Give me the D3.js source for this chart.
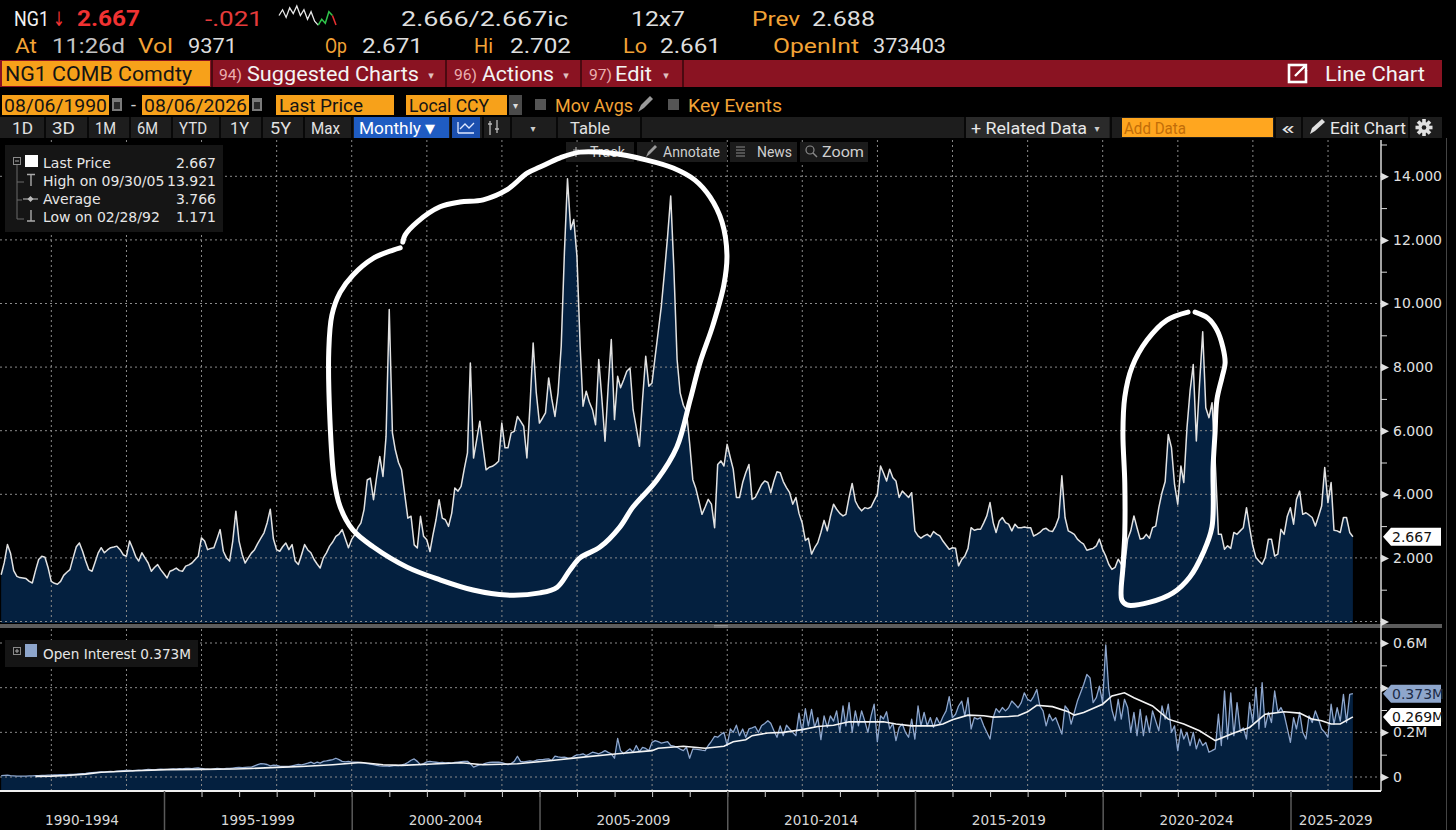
<!DOCTYPE html>
<html lang="en">
<head>
<meta charset="UTF-8">
<title>NG1 COMB Comdty</title>
<style>
  html, body { margin: 0; padding: 0; background: #000; overflow: hidden; }
  svg { display: block; }
</style>
</head>
<body>
<script src="https://d3js.org/d3.v7.min.js"></script>
<div id="my_dataviz"></div>
<script>
// NG1 last price, monthly (month end), Aug 1990 .. Aug 2026
var price = [
  1.47, 1.85, 2.42, 2.15, 1.6,                                             // 1990 Aug-Dec
  1.42, 1.38, 1.37, 1.35, 1.26, 1.21, 1.6, 1.95, 2.05, 2.02, 1.7, 1.26,    // 1991
  1.2, 1.171, 1.26, 1.45, 1.55, 1.63, 2.0, 2.35, 2.47, 2.21, 1.9, 1.63,    // 1992
  1.58, 1.85, 2.15, 2.32, 2.16, 2.25, 2.32, 2.34, 2.37, 2.26, 2.1, 2.05,   // 1993
  2.53, 2.32, 2.05, 1.9, 2.16, 2.0, 1.84, 1.58, 1.7, 1.79, 1.63, 1.5,      // 1994
  1.37, 1.58, 1.62, 1.68, 1.6, 1.58, 1.74, 1.78, 1.84, 1.95, 2.05, 2.63,   // 1995
  2.53, 2.26, 2.3, 2.32, 2.6, 2.89, 2.21, 2.0, 1.9, 2.53, 3.47, 2.53,      // 1996
  2.1, 1.84, 2.0, 2.15, 2.26, 2.45, 2.62, 2.79, 3.1, 3.53, 2.6, 2.26,      // 1997
  2.21, 2.35, 2.47, 2.26, 2.42, 1.9, 1.79, 2.1, 2.42, 2.25, 2.16, 1.95,    // 1998
  1.8, 1.68, 2.0, 2.16, 2.37, 2.5, 2.68, 2.75, 2.89, 2.6, 2.32, 2.58,      // 1999
  2.73, 2.95, 3.1, 3.52, 4.45, 4.51, 3.83, 4.56, 5.19, 4.56, 5.82, 9.81,   // 2000
  5.93, 5.4, 5.0, 4.77, 4.0, 3.25, 3.31, 2.41, 2.31, 3.31, 2.68, 2.57,     // 2001
  2.2, 2.7, 3.2, 3.83, 3.25, 3.2, 2.99, 3.41, 4.2, 4.1, 4.25, 4.8,         // 2002
  5.3, 8.13, 5.14, 5.7, 6.3, 5.51, 4.77, 4.85, 4.88, 4.95, 5.04, 6.24,     // 2003
  5.46, 5.46, 5.93, 5.98, 6.45, 6.3, 6.14, 5.14, 6.77, 8.76, 7.2, 6.24,    // 2004
  6.4, 6.56, 7.66, 7.0, 6.45, 7.19, 8.66, 11.6, 13.921, 12.33, 12.64, 11.49, // 2005
  8.66, 6.77, 7.24, 6.9, 6.66, 6.19, 8.24, 6.98, 5.67, 7.4, 8.87, 6.35,    // 2006
  7.71, 7.35, 7.6, 7.87, 7.97, 6.66, 6.1, 5.51, 6.98, 8.34, 7.4, 7.5,      // 2007
  8.34, 9.1, 9.92, 10.97, 12.12, 13.38, 11.07, 8.24, 7.19, 6.8, 6.61, 5.61, // 2008
  4.46, 4.2, 3.79, 3.37, 3.6, 3.84, 3.69, 2.95, 4.94, 5.05, 4.89, 5.57,    // 2009
  5.15, 4.79, 3.9, 3.9, 4.37, 4.68, 4.94, 3.84, 3.9, 4.1, 4.3, 4.42,       // 2010
  4.37, 4.05, 4.42, 4.71, 4.68, 4.4, 4.21, 4.05, 3.69, 3.9, 3.4, 3.1,      // 2011
  2.55, 2.62, 2.12, 2.32, 2.48, 2.8, 3.18, 2.85, 3.3, 3.69, 3.53, 3.4,     // 2012
  3.32, 3.37, 3.9, 4.34, 3.79, 3.6, 3.48, 3.58, 3.55, 3.6, 3.8, 4.0,       // 2013
  4.89, 4.68, 4.42, 4.79, 4.52, 4.42, 3.9, 4.1, 4.0, 3.9, 4.05, 2.85,      // 2014
  2.69, 2.62, 2.69, 2.74, 2.66, 2.83, 2.75, 2.69, 2.53, 2.4, 2.27, 2.32,   // 2015
  2.3, 1.75, 1.95, 2.06, 2.3, 2.95, 2.87, 2.9, 2.9, 3.1, 3.32, 3.74,       // 2016
  3.11, 2.8, 3.16, 3.27, 3.11, 3.06, 2.85, 3.06, 2.95, 2.95, 2.97, 2.95,   // 2017
  2.95, 2.69, 2.74, 2.8, 2.9, 2.93, 2.85, 2.83, 3.0, 3.27, 4.58, 3.27,     // 2018
  2.85, 2.8, 2.74, 2.59, 2.5, 2.43, 2.24, 2.27, 2.3, 2.38, 2.59, 2.27,     // 2019
  2.06, 1.8, 1.64, 1.7, 1.96, 1.8, 1.7, 2.59, 2.85, 3.32, 2.95, 2.59,      // 2020
  2.62, 2.74, 2.62, 2.95, 3.0, 3.58, 4.05, 4.4, 5.88, 5.47, 4.31, 3.69,    // 2021
  4.89, 4.37, 6.09, 7.25, 8.08, 5.68, 7.46, 9.11, 6.72, 6.41, 6.88, 5.0,   // 2022
  2.74, 2.74, 2.27, 2.38, 2.3, 2.8, 2.74, 2.85, 2.95, 3.58, 2.95, 2.38,    // 2023
  2.01, 1.9, 1.8, 2.01, 2.59, 2.59, 2.06, 2.12, 2.9, 2.74, 3.3, 3.58,      // 2024
  3.06, 3.84, 4.1, 3.37, 3.42, 3.35, 3.27, 3.0, 3.3, 3.63, 4.84, 3.74,     // 2025
  4.37, 2.87, 2.85, 2.8, 3.27, 3.27, 2.8, 2.667                            // 2026 Jan-Aug
];

// open interest, millions of contracts, same months
var openInt = [
  0.006, 0.007, 0.008, 0.006, 0.005,
  0.004, 0.004, 0.004, 0.004, 0.005, 0.005, 0.006, 0.006, 0.007, 0.007, 0.008, 0.008,
  0.009, 0.009, 0.01, 0.01, 0.011, 0.012, 0.012, 0.013, 0.014, 0.015, 0.016, 0.018,
  0.02, 0.021, 0.022, 0.023, 0.022, 0.024, 0.025, 0.024, 0.026, 0.027, 0.028, 0.029,
  0.03, 0.028, 0.03, 0.031, 0.03, 0.032, 0.034, 0.033, 0.032, 0.034, 0.035, 0.034,
  0.034, 0.035, 0.036, 0.035, 0.037, 0.036, 0.038, 0.039, 0.037, 0.04, 0.041, 0.038,
  0.036, 0.035, 0.034, 0.036, 0.038, 0.037, 0.036, 0.039, 0.038, 0.04, 0.042, 0.043,
  0.042, 0.043, 0.044, 0.044, 0.05, 0.055, 0.06, 0.059, 0.056, 0.05, 0.053, 0.052,
  0.049, 0.047, 0.048, 0.047, 0.05, 0.053, 0.056, 0.054, 0.058, 0.062, 0.067, 0.06,
  0.067, 0.062, 0.07, 0.072, 0.075, 0.078, 0.084, 0.078, 0.07, 0.068, 0.07, 0.067,
  0.066, 0.067, 0.064, 0.062, 0.06, 0.058, 0.055, 0.052, 0.05, 0.049, 0.05, 0.048,
  0.05, 0.052, 0.051, 0.054, 0.058, 0.065, 0.075, 0.081, 0.07, 0.055, 0.06, 0.068,
  0.07, 0.068, 0.066, 0.064, 0.065, 0.063, 0.064, 0.062, 0.065, 0.067, 0.069, 0.07,
  0.07, 0.06, 0.044, 0.05, 0.055, 0.058, 0.062, 0.065, 0.067, 0.066, 0.067, 0.064,
  0.06, 0.055, 0.06, 0.07, 0.093, 0.07, 0.068, 0.07, 0.072, 0.07, 0.075, 0.078,
  0.078, 0.08, 0.081, 0.074, 0.093, 0.09, 0.088, 0.089, 0.086, 0.084, 0.092, 0.099,
  0.1, 0.104, 0.096, 0.103, 0.111, 0.108, 0.104, 0.11, 0.118, 0.11, 0.104, 0.084,
  0.173, 0.118, 0.104, 0.115, 0.126, 0.111, 0.141, 0.114, 0.133, 0.128, 0.118, 0.155,
  0.163, 0.158, 0.152, 0.155, 0.158, 0.141, 0.138, 0.133, 0.125, 0.118, 0.133, 0.084,
  0.126, 0.125, 0.123, 0.12, 0.118, 0.141, 0.16, 0.182, 0.178, 0.19, 0.2, 0.141,
  0.215, 0.2, 0.232, 0.185, 0.215, 0.178, 0.215, 0.22, 0.226, 0.2, 0.229, 0.24,
  0.252, 0.241, 0.207, 0.178, 0.229, 0.185, 0.232, 0.215, 0.2, 0.185, 0.286, 0.2,
  0.306, 0.229, 0.303, 0.222, 0.266, 0.167, 0.274, 0.222, 0.274, 0.25, 0.296, 0.2,
  0.318, 0.229, 0.333, 0.2, 0.296, 0.229, 0.296, 0.25, 0.2, 0.274, 0.326, 0.158,
  0.274, 0.26, 0.292, 0.215, 0.24, 0.163, 0.222, 0.237, 0.2, 0.178, 0.259, 0.17,
  0.318, 0.229, 0.289, 0.229, 0.266, 0.222, 0.266, 0.237, 0.27, 0.296, 0.36, 0.266,
  0.281, 0.318, 0.34, 0.274, 0.355, 0.215, 0.266, 0.259, 0.266, 0.229, 0.2, 0.17,
  0.266, 0.306, 0.289, 0.311, 0.296, 0.31, 0.34, 0.326, 0.31, 0.333, 0.377, 0.348,
  0.34, 0.36, 0.392, 0.318, 0.296, 0.229, 0.281, 0.252, 0.266, 0.229, 0.192, 0.318,
  0.3, 0.237, 0.289, 0.34, 0.377, 0.414, 0.459, 0.444, 0.333, 0.355, 0.407, 0.333,
  0.592, 0.392, 0.3, 0.252, 0.348, 0.259, 0.348, 0.311, 0.2, 0.289, 0.185, 0.303,
  0.185, 0.274, 0.2, 0.296, 0.25, 0.207, 0.318, 0.259, 0.326, 0.2, 0.229, 0.118,
  0.215, 0.17, 0.2, 0.141, 0.2, 0.126, 0.17, 0.141, 0.155, 0.111, 0.118, 0.126,
  0.281, 0.141, 0.385, 0.17, 0.377, 0.185, 0.333, 0.207, 0.22, 0.17, 0.333, 0.244,
  0.4, 0.215, 0.422, 0.222, 0.289, 0.244, 0.385, 0.289, 0.311, 0.281, 0.22, 0.155,
  0.266, 0.215, 0.289, 0.2, 0.17, 0.274, 0.244, 0.296, 0.259, 0.215, 0.2, 0.178,
  0.326, 0.237, 0.311, 0.25, 0.37, 0.244, 0.37, 0.373
];

// moving average of open interest, read at intervals
var oiAvgDates = ["1991-07","1991-12","1992-05","1992-11","1993-04","1994-03","1995-01","1995-12",
  "1996-11","1997-04","1997-12","1998-08","1999-06","2000-03","2000-10","2001-04","2002-02","2002-11",
  "2003-06","2004-05","2005-04","2006-02","2007-01","2007-12","2008-02","2008-10","2009-05","2009-11",
  "2010-02","2010-06","2010-08","2011-01","2011-06","2011-12","2012-05","2012-10","2013-03","2013-09",
  "2014-02","2014-06","2014-11","2015-06","2015-09","2015-12","2016-05","2016-10","2017-01","2017-06",
  "2017-09","2017-12","2018-03","2018-08","2019-01","2019-03","2019-06","2019-12","2020-03","2020-07",
  "2020-10","2021-04","2021-09","2022-02","2022-07","2022-12","2023-06","2023-11","2024-04","2024-10",
  "2025-03","2025-07","2025-10","2026-01","2026-04","2026-08"];
var oiAvgValues = [0.003,0.004,0.007,0.013,0.021,0.028,0.033,0.034,
  0.036,0.038,0.043,0.047,0.055,0.065,0.055,0.052,0.058,0.064,
  0.055,0.059,0.074,0.089,0.104,0.118,0.129,0.138,0.129,0.138,
  0.158,0.167,0.185,0.197,0.2,0.212,0.226,0.232,0.247,0.247,
  0.247,0.237,0.229,0.229,0.237,0.256,0.277,0.274,0.268,0.271,
  0.274,0.292,0.321,0.315,0.292,0.277,0.289,0.326,0.363,0.377,
  0.355,0.318,0.259,0.237,0.207,0.163,0.197,0.222,0.281,0.292,
  0.286,0.259,0.252,0.237,0.237,0.269];

var priceTicks = [0, 2, 4, 6, 8, 10, 12, 14];
var priceMinor = [1, 3, 5, 7, 9, 11, 13, 15];
var oiTicks = [0, 0.2, 0.4, 0.6];
var oiMinor = [0.1, 0.3, 0.5];
var yearBands = ["1990-1994", "1995-1999", "2000-2004", "2005-2009", "2010-2014", "2015-2019", "2020-2024", "2025-2029"];
var legendLabels = ["Last Price", "High on 09/30/05", "Average", "Low on 02/28/92"];
var legendValues = ["2.667", "13.921", "3.766", "1.171"];
var sparkVals = [6, 9, 5, 10, 7, 11, 6, 9, 4, 8, 3, 1, 4, 2, 8, 6, 1];

// hand-drawn circles, [year, price]
var loopA = [[2001.29,11.75],[2001.10,11.68],[2000.57,11.42],[2000.03,10.89],[1999.69,10.35],[1999.47,9.63],
  [1999.39,8.53],[1999.42,6.34],[1999.53,4.46],[1999.69,3.61],[2000.03,2.88],[2000.57,2.35],[2001.47,1.71],
  [2002.35,1.31],[2003.23,0.99],[2004.13,0.83],[2005.01,0.90],[2005.47,1.08],[2005.81,1.62],[2006.08,2.0],
  [2006.61,2.34],[2007.14,2.97],[2007.49,3.60],[2008.13,4.45],[2008.66,5.49],[2009.01,6.97],[2009.27,8.13],
  [2009.62,9.32],[2009.91,10.58],[2009.99,11.53],[2009.86,12.56],[2009.54,13.35],[2009.14,13.88],[2008.56,14.26],
  [2007.86,14.51],[2006.88,14.73],[2006.08,14.76],[2005.55,14.58],[2005.01,14.29],[2004.67,14.1],[2004.13,13.57],
  [2003.50,13.26],[2002.88,13.19],[2002.35,13.04],[2001.74,12.56],[2001.42,12.15],[2001.36,11.93]];
var loopB = [[2022.27,9.73],[2021.71,9.48],[2021.18,8.85],[2020.78,8.0],[2020.59,7.06],[2020.54,5.93],
  [2020.59,4.36],[2020.59,2.78],[2020.54,1.71],[2020.51,0.68],[2020.65,0.52],[2021.26,0.61],[2021.87,0.90],
  [2022.32,1.40],[2022.67,2.15],[2022.91,2.97],[2022.94,4.86],[2022.99,5.93],[2023.04,6.97],[2023.18,7.69],
  [2023.26,8.13],[2023.20,8.63],[2023.04,9.17],[2022.80,9.54],[2022.46,9.73]];

var W = 1456, H = 830;
var ORANGE = "#f7a11a", AMBER = "#f3a336", BARRED = "#8a1322", NAVY = "#04203f", OIBLUE = "#8ea6cc";
var UI = "Roboto, 'Noto Sans', sans-serif";
var AX = "'DejaVu Sans', Verdana, sans-serif";

var svg = d3.select("#my_dataviz").append("svg")
    .attr("width", W).attr("height", H);
svg.append("rect").attr("width", W).attr("height", H).attr("fill", "#000");

function txt(g, s, x, y, o) {
    o = o || {};
    var t = g.append("text").attr("x", x).attr("y", y).text(s)
        .attr("fill", o.fill || "#dedede")
        .attr("font-family", o.family || UI)
        .attr("font-size", o.size || 21)
        .attr("font-weight", o.weight || 400)
        .attr("text-anchor", o.anchor || "start");
    if (o.w) t.attr("textLength", o.w).attr("lengthAdjust", "spacingAndGlyphs");
    return t;
}
function box(g, x, y, w, h, fill) {
    return g.append("rect").attr("x", x).attr("y", y).attr("width", w).attr("height", h).attr("fill", fill);
}

// ---------- header ----------
var hd = svg.append("g");
txt(hd, "NG1", 14, 26, {fill: "#f2f2f2", w: 35});
txt(hd, "\u2193", 53, 26, {fill: "#f03232", family: AX, size: 20, w: 12});
txt(hd, "2.667", 77, 26, {fill: "#f03232", weight: 700, size: 22, w: 63});
txt(hd, "-.021", 205, 26, {fill: "#e53b3b", w: 58});
var sx = d3.scaleLinear().domain([0, sparkVals.length - 1]).range([279, 336]);
var sy = d3.scaleLinear().domain([0, 12]).range([27, 4]);
function sparkLine(offset) {
    return d3.line().x(function(d, i) { return sx(i + offset); }).y(function(d) { return sy(d); });
}
hd.append("path").attr("d", sparkLine(0)(sparkVals.slice(0, 12))).attr("fill", "none").attr("stroke", "#e8e8e8").attr("stroke-width", 1.3);
hd.append("path").attr("d", sparkLine(11)(sparkVals.slice(11, 16))).attr("fill", "none").attr("stroke", "#2fc44a").attr("stroke-width", 1.5);
hd.append("path").attr("d", sparkLine(15)(sparkVals.slice(15))).attr("fill", "none").attr("stroke", "#e83030").attr("stroke-width", 1.5);
txt(hd, "2.666/2.667ic", 401, 26, {w: 167});
txt(hd, "12x7", 631, 26, {w: 54});
txt(hd, "Prev", 752, 26, {fill: AMBER, w: 48});
txt(hd, "2.688", 812, 26, {w: 63});

txt(hd, "At", 15, 53, {fill: AMBER, w: 22});
txt(hd, "11:26d", 52, 53, {fill: "#c4c4c4", w: 73});
txt(hd, "Vol", 138, 53, {fill: AMBER, w: 35});
txt(hd, "9371", 188, 53, {w: 49});
txt(hd, "Op", 325, 53, {fill: AMBER, w: 22});
txt(hd, "2.671", 362, 53, {w: 61});
txt(hd, "Hi", 474, 53, {fill: AMBER, w: 19});
txt(hd, "2.702", 510, 53, {w: 61});
txt(hd, "Lo", 623, 53, {fill: AMBER, w: 24});
txt(hd, "2.661", 660, 53, {w: 61});
txt(hd, "OpenInt", 773, 53, {fill: AMBER, w: 86});
txt(hd, "373403", 873, 53, {w: 73});

// red menu bar
box(hd, 0, 60, 1442, 27, BARRED);
box(hd, 2, 61, 208, 25, ORANGE);
txt(hd, "NG1 COMB Comdty", 5, 81, {fill: "#141414", w: 187});
[211, 445, 580, 682].forEach(function(x) { box(hd, x, 60, 2, 27, "#4a0910"); });
[[219, "94)", 247, "Suggested Charts", 172, 431], [454, "96)", 482, "Actions", 72, 566], [589, "97)", 615, "Edit", 37, 666]]
  .forEach(function(m) {
    txt(hd, m[1], m[0], 80, {size: 14, fill: "#eab0b0", w: 23});
    txt(hd, m[3], m[2], 81, {fill: "#f4f4f4", w: m[4]});
    txt(hd, "\u25BE", m[5], 79, {size: 11, fill: "#e0c0c0", family: AX, anchor: "middle"});
  });
hd.append("rect").attr("x", 1289).attr("y", 65).attr("width", 17).attr("height", 17)
    .attr("fill", "none").attr("stroke", "#fff").attr("stroke-width", 2.6);
box(hd, 1300, 62, 9, 8, BARRED);
hd.append("path").attr("d", "M1295,76 L1306,65 M1300,65 L1306,65 L1306,71").attr("stroke", "#fff")
    .attr("stroke-width", 2.4).attr("fill", "none");
txt(hd, "Line Chart", 1325, 81, {fill: "#f4f4f4", w: 100});

// date / field row
var dr = 112;
box(hd, 2, 95, 107, 20, ORANGE);
txt(hd, "08/06/1990", 4, dr, {size: 18, fill: "#141414", w: 103});
box(hd, 142, 95, 107, 20, ORANGE);
txt(hd, "08/06/2026", 144, dr, {size: 18, fill: "#141414", w: 103});
[112, 252].forEach(function(x) {
    box(hd, x, 98, 10, 13, "#7a7a7a");
    box(hd, x + 2, 102, 6, 7, "#2a2a2a");
});
txt(hd, "-", 131, dr - 1, {size: 18, fill: "#cfcfcf"});
box(hd, 276, 95, 118, 20, ORANGE);
txt(hd, "Last Price", 279, dr, {size: 18, fill: "#141414", w: 84});
box(hd, 406, 95, 101, 20, ORANGE);
txt(hd, "Local CCY", 409, dr, {size: 18, fill: "#141414", w: 80});
box(hd, 509, 95, 13, 20, "#4a4a4a");
txt(hd, "\u25BE", 515.5, 109, {size: 10, fill: "#ddd", family: AX, anchor: "middle"});
box(hd, 535, 99, 11, 11, "#555");
txt(hd, "Mov Avgs", 555, dr, {size: 18, fill: AMBER, w: 78});
hd.append("path").attr("d", "M638,112 L641,105 L650,96 L653,99 L644,108 Z").attr("fill", "#9a9a9a");
box(hd, 668, 99, 11, 11, "#555");
txt(hd, "Key Events", 688, dr, {size: 18, fill: AMBER, w: 94});

// period buttons row
box(hd, 0, 117, 1442, 21, "#1d1d1d");
[44, 87, 129, 171, 219, 261, 303, 351, 450, 482, 510, 556, 640, 964, 1110, 1274, 1301, 1408].forEach(function(x) {
    box(hd, x, 117, 2, 21, "#080808");
});
box(hd, 966, 117, 143, 21, "#2a2a2a");
box(hd, 354, 117, 95, 21, "#1f5cc2");
box(hd, 452, 117, 28, 21, "#1b4fae");
var br = 134;
[["1D", 12, 21], ["3D", 52, 23], ["1M", 95, 21], ["6M", 137, 21], ["YTD", 179, 28], ["1Y", 230, 19], ["5Y", 270, 21], ["Max", 311, 29]]
  .forEach(function(b) { txt(hd, b[0], b[1], br, {size: 17, fill: "#e2e2e2", w: b[2]}); });
txt(hd, "Monthly", 359, br, {size: 17, fill: "#fff", w: 62});
txt(hd, "\u25BC", 425, br - 1, {size: 13, fill: "#fff", family: AX});
hd.append("path").attr("d", "M458,133 L458,122 M458,133 L474,133 M460,129 L465,124 L469,128 L474,123")
    .attr("stroke", "#dfe8ff").attr("stroke-width", 1.3).attr("fill", "none");
hd.append("path").attr("d", "M490,121 L490,135 M488,124 L492,124 M497,120 L497,133 M495,129 L499,129")
    .attr("stroke", "#bbb").attr("stroke-width", 1.3).attr("fill", "none");
txt(hd, "\u25BE", 533, br - 2, {size: 10, fill: "#ccc", family: AX, anchor: "middle"});
txt(hd, "Table", 570, br, {size: 17, fill: "#e2e2e2", w: 40});
txt(hd, "+ Related Data", 971, br, {size: 17, fill: "#e8e8e8", w: 116});
txt(hd, "\u25BE", 1097, br - 2, {size: 10, fill: "#ccc", family: AX, anchor: "middle"});
box(hd, 1122, 118, 151, 19, "#ffa61f");
txt(hd, "Add Data", 1124, br, {size: 17, fill: "#c26d08", w: 62});
txt(hd, "\u00AB", 1281, br, {size: 19, fill: "#e2e2e2", w: 14});
hd.append("path").attr("d", "M1310,134 L1312,128 L1322,119 L1325,122 L1315,131 Z").attr("fill", "#e0e0e0");
txt(hd, "Edit Chart", 1330, br, {size: 17, fill: "#e8e8e8", w: 76});
var gear = hd.append("g").attr("transform", "translate(1424,127.5)");
d3.range(8).forEach(function(i) {
    gear.append("rect").attr("x", -1.8).attr("y", -8.5).attr("width", 3.6).attr("height", 4)
        .attr("fill", "#e0e0e0").attr("transform", "rotate(" + (i * 45) + ")");
});
gear.append("circle").attr("r", 5.6).attr("fill", "#e0e0e0");
gear.append("circle").attr("r", 2.3).attr("fill", "#1d1d1d");

// ---------- chart ----------
var pTop = 140, pBot = 623, oTop = 629, oBot = 791, plotR = 1381;

var x = d3.scaleTime()
    .domain([new Date(1995, 0, 1), new Date(2025, 0, 1)])
    .range([164, 1290.5]);
var yP = d3.scaleLinear().domain([0, 14]).range([621.5, 176.3]);
var yO = d3.scaleLinear().domain([0, 0.6]).range([777, 643]);

function monthEnd(i) { return new Date(1990, 8 + i, 0); }
function fromYear(f) {
    var yr = Math.floor(f);
    return new Date(yr, 0, 1 + Math.round((f - yr) * 365.25));
}
var priceData = price.map(function(v, i) { return {date: monthEnd(i), v: v}; });
var oiData = openInt.map(function(v, i) { return {date: monthEnd(i), v: v}; });
var avgData = oiAvgDates.map(function(s, i) {
    var p = s.split("-");
    return {date: new Date(+p[0], +p[1], 0), v: oiAvgValues[i]};
});

var defs = svg.append("defs");
defs.append("clipPath").attr("id", "pclip").append("rect")
    .attr("x", 0).attr("y", pTop).attr("width", plotR).attr("height", pBot - pTop);
defs.append("clipPath").attr("id", "oclip").append("rect")
    .attr("x", 0).attr("y", oTop).attr("width", plotR).attr("height", oBot - oTop);

var gridYears = d3.range(1992, 2028, 2).map(function(y) { return new Date(y, 0, 1); });

// price panel
var pp = svg.append("g").attr("clip-path", "url(#pclip)");
pp.append("path").datum(priceData)
    .attr("d", d3.area().x(function(d) { return x(d.date); }).y0(pBot).y1(function(d) { return yP(d.v); }))
    .attr("fill", NAVY);
pp.selectAll(".hgrid").data(priceTicks).enter().append("line")
    .attr("x1", 0).attr("x2", plotR)
    .attr("y1", function(d) { return yP(d); }).attr("y2", function(d) { return yP(d); })
    .attr("stroke", "#8a8a8a").attr("stroke-width", 1).attr("stroke-dasharray", "2,3");
pp.selectAll(".vgrid").data(gridYears).enter().append("line")
    .attr("x1", function(d) { return x(d); }).attr("x2", function(d) { return x(d); })
    .attr("y1", pTop).attr("y2", pBot)
    .attr("stroke", "#8a8a8a").attr("stroke-width", 1).attr("stroke-dasharray", "2,3");
pp.append("path").datum(priceData)
    .attr("d", d3.line().x(function(d) { return x(d.date); }).y(function(d) { return yP(d.v); }))
    .attr("fill", "none").attr("stroke", "#e2e2e2").attr("stroke-width", 1.5).attr("stroke-linejoin", "round");

// open interest panel
var op = svg.append("g").attr("clip-path", "url(#oclip)");
op.append("path").datum(oiData)
    .attr("d", d3.area().x(function(d) { return x(d.date); }).y0(oBot).y1(function(d) { return yO(d.v); }))
    .attr("fill", NAVY);
op.selectAll(".hgrid").data(oiTicks).enter().append("line")
    .attr("x1", 0).attr("x2", plotR)
    .attr("y1", function(d) { return yO(d); }).attr("y2", function(d) { return yO(d); })
    .attr("stroke", "#8a8a8a").attr("stroke-width", 1).attr("stroke-dasharray", "2,3");
op.selectAll(".vgrid").data(gridYears).enter().append("line")
    .attr("x1", function(d) { return x(d); }).attr("x2", function(d) { return x(d); })
    .attr("y1", oTop).attr("y2", oBot)
    .attr("stroke", "#8a8a8a").attr("stroke-width", 1).attr("stroke-dasharray", "2,3");
op.append("path").datum(oiData)
    .attr("d", d3.line().x(function(d) { return x(d.date); }).y(function(d) { return yO(d.v); }))
    .attr("fill", "none").attr("stroke", OIBLUE).attr("stroke-width", 1.3).attr("stroke-linejoin", "round");
op.append("path").datum(avgData)
    .attr("d", d3.line().x(function(d) { return x(d.date); }).y(function(d) { return yO(d.v); }))
    .attr("fill", "none").attr("stroke", "#f4f4f4").attr("stroke-width", 1.6);

// panel divider and right border
box(svg, 0, 624, 1442, 4, "#5c5c5c");
svg.append("path").attr("d", "M714,625.5 L728,625.5 M714,627 L728,627").attr("stroke", "#999").attr("stroke-width", 0.8);
svg.append("line").attr("x1", 1446.5).attr("x2", 1446.5).attr("y1", 138).attr("y2", 830)
    .attr("stroke", "#444").attr("stroke-width", 1);

// legend, price panel
var lg = svg.append("g");
lg.append("rect").attr("x", 5).attr("y", 145).attr("width", 218).attr("height", 87).attr("fill", "#151515");
lg.append("rect").attr("x", 13.5).attr("y", 157.5).attr("width", 7).attr("height", 7).attr("fill", "none").attr("stroke", "#8a8a8a");
lg.append("line").attr("x1", 15).attr("x2", 19).attr("y1", 161).attr("y2", 161).attr("stroke", "#aaa");
lg.append("rect").attr("x", 25).attr("y", 155).attr("width", 13).attr("height", 12).attr("fill", "#fff");
lg.append("path").attr("d", "M17,165 L17,219 M17,182 L24,182 M17,200 L22,200 M17,219 L24,219")
    .attr("stroke", "#6a6a6a").attr("fill", "none");
lg.append("path").attr("d", "M27,174.5 L35,174.5 M31,174.5 L31,186")
    .attr("stroke", "#aaa").attr("stroke-width", 1.4).attr("fill", "none");
lg.append("path").attr("d", "M23,199 L38,199").attr("stroke", "#aaa").attr("stroke-width", 1.2);
lg.append("path").attr("d", "M30.5,196 L33.5,199 L30.5,202 L27.5,199 Z").attr("fill", "#bbb");
lg.append("path").attr("d", "M31,210 L31,221 M27,221 L35,221")
    .attr("stroke", "#aaa").attr("stroke-width", 1.4).attr("fill", "none");
legendLabels.forEach(function(s, i) {
    var yy = 168 + i * 18;
    txt(lg, s, 43, yy, {family: AX, size: 14, fill: "#e6e6e6"});
    txt(lg, legendValues[i], 216, yy, {family: AX, size: 14, fill: "#e6e6e6", anchor: "end"});
});

// legend, OI panel
var lo = svg.append("g");
lo.append("rect").attr("x", 5).attr("y", 640).attr("width", 193).attr("height", 27).attr("fill", "#151515");
lo.append("rect").attr("x", 13.5).attr("y", 647.5).attr("width", 7).attr("height", 7).attr("fill", "none").attr("stroke", "#8a8a8a");
lo.append("path").attr("d", "M15,651 L19,651 M17,649 L17,653").attr("stroke", "#aaa");
lo.append("rect").attr("x", 25).attr("y", 644).attr("width", 12).attr("height", 13).attr("fill", OIBLUE);
txt(lo, "Open Interest 0.373M", 43, 659, {family: AX, size: 14, fill: "#e6e6e6", w: 148});

// chart toolbar
var tb = svg.append("g");
[[566, 68], [637, 90], [730, 67], [800, 68]].forEach(function(c) {
    tb.append("rect").attr("x", c[0]).attr("y", 142).attr("width", c[1]).attr("height", 20).attr("fill", "#1b1b1b");
});
tb.append("path").attr("d", "M576,147 L576,157 M573,150 L579,150").attr("stroke", "#aaa").attr("stroke-width", 1.2);
txt(tb, "Track", 590, 157, {size: 14, fill: "#cfcfcf", w: 35});
tb.append("path").attr("d", "M646,157 L648,152 L655,145 L657,147 L650,154 Z").attr("fill", "#9a9a9a");
txt(tb, "Annotate", 663, 157, {size: 14, fill: "#cfcfcf", w: 57});
tb.append("path").attr("d", "M736,147 L745,147 M736,150 L745,150 M736,153 L745,153 M736,156 L745,156")
    .attr("stroke", "#8a8a8a").attr("stroke-width", 1.2);
txt(tb, "News", 757, 157, {size: 14, fill: "#cfcfcf", w: 35});
tb.append("circle").attr("cx", 810).attr("cy", 150).attr("r", 4).attr("fill", "none").attr("stroke", "#8a8a8a").attr("stroke-width", 1.2);
tb.append("line").attr("x1", 813).attr("y1", 153).attr("x2", 817).attr("y2", 157).attr("stroke", "#8a8a8a").attr("stroke-width", 1.4);
txt(tb, "Zoom", 822, 157, {size: 14, fill: "#cfcfcf", w: 42});

// hand-drawn annotations
var loopLine = d3.line()
    .x(function(d) { return x(fromYear(d[0])); })
    .y(function(d) { return yP(d[1]); })
    .curve(d3.curveCatmullRom.alpha(0.5));
[loopA, loopB].forEach(function(lp) {
    svg.append("path").attr("d", loopLine(lp))
        .attr("fill", "none").attr("stroke", "#fff").attr("stroke-width", 5)
        .attr("stroke-linecap", "round").attr("stroke-linejoin", "round");
});

// ---------- axes ----------
svg.append("line").attr("x1", plotR).attr("x2", plotR).attr("y1", pTop).attr("y2", oBot)
    .attr("stroke", "#d8d8d8").attr("stroke-width", 1.5);

function styleAxis(g) {
    g.select(".domain").remove();
    g.selectAll("text").attr("font-family", AX).attr("font-size", 14).attr("fill", "#e0e0e0");
    g.selectAll(".tick line").attr("stroke", "#d8d8d8");
}
var pAxis = svg.append("g").attr("transform", "translate(" + plotR + ",0)")
    .call(d3.axisRight(yP).tickValues(priceTicks).tickSize(0).tickPadding(12)
        .tickFormat(function(d) { return d === 0 ? "" : d3.format(".3f")(d); }))
    .call(styleAxis);
pAxis.selectAll(".tick").append("path").attr("d", "M0,-4 L8,0 L0,4 Z").attr("fill", "#e0e0e0");
svg.append("g").attr("transform", "translate(" + plotR + ",0)")
    .call(d3.axisRight(yP).tickValues(priceMinor).tickSize(6).tickFormat(""))
    .call(styleAxis);

// the 0.4M label sits under the open-interest flag, as in the terminal
var oAxis = svg.append("g").attr("transform", "translate(" + plotR + ",0)")
    .call(d3.axisRight(yO).tickValues(oiTicks).tickSize(0).tickPadding(12)
        .tickFormat(function(d) { return d === 0 ? "0" : (d === 0.4 ? "" : d3.format(".1f")(d) + "M"); }))
    .call(styleAxis);
oAxis.selectAll(".tick").append("path").attr("d", "M0,-4 L8,0 L0,4 Z").attr("fill", "#e0e0e0");
svg.append("g").attr("transform", "translate(" + plotR + ",0)")
    .call(d3.axisRight(yO).tickValues(oiMinor).tickSize(6).tickFormat(""))
    .call(styleAxis);

// value flags on the right axis
function flag(yv, label, fill, color) {
    var g = svg.append("g").attr("transform", "translate(0," + yv + ")");
    g.append("path").attr("d", "M1383,0 L1391,-9 L1441,-9 L1441,9 L1391,9 Z").attr("fill", fill);
    txt(g, label, 1392, 5, {family: AX, size: 14, fill: color});
}
flag(yP(price[price.length - 1]), "2.667", "#ffffff", "#111");
flag(yO(openInt[openInt.length - 1]), "0.373M", OIBLUE, "#1c2b47");
flag(yO(oiAvgValues[oiAvgValues.length - 1]), "0.269M", "#ffffff", "#111");

// time axis
svg.append("line").attr("x1", 0).attr("x2", plotR).attr("y1", oBot).attr("y2", oBot)
    .attr("stroke", "#f0f0f0").attr("stroke-width", 2);
svg.append("g").attr("transform", "translate(0," + oBot + ")")
    .call(d3.axisBottom(x).ticks(d3.timeYear.every(1)).tickSize(6).tickFormat(""))
    .call(function(g) { g.select(".domain").remove(); g.selectAll(".tick line").attr("stroke", "#cfcfcf"); })
    .selectAll(".tick").filter(function(d) { return x(d) < 2 || x(d) > plotR; }).remove();
var sepYears = d3.range(1995, 2030, 5).map(function(y) { return new Date(y, 0, 1); });
svg.append("g").attr("transform", "translate(0," + oBot + ")")
    .call(d3.axisBottom(x).tickValues(sepYears).tickSize(40).tickFormat(""))
    .call(function(g) { g.select(".domain").remove(); g.selectAll(".tick line").attr("stroke", "#5a5a5a").attr("stroke-width", 1.5); });
yearBands.forEach(function(s, i) {
    var a = Math.max(x(new Date(1990 + i * 5, 0, 1)), 0);
    var b = Math.min(x(new Date(1995 + i * 5, 0, 1)), plotR);
    txt(svg, s, (a + b) / 2, 825, {family: AX, size: 14, fill: "#d8d8d8", anchor: "middle", w: 74});
});
</script>
</body>
</html>
